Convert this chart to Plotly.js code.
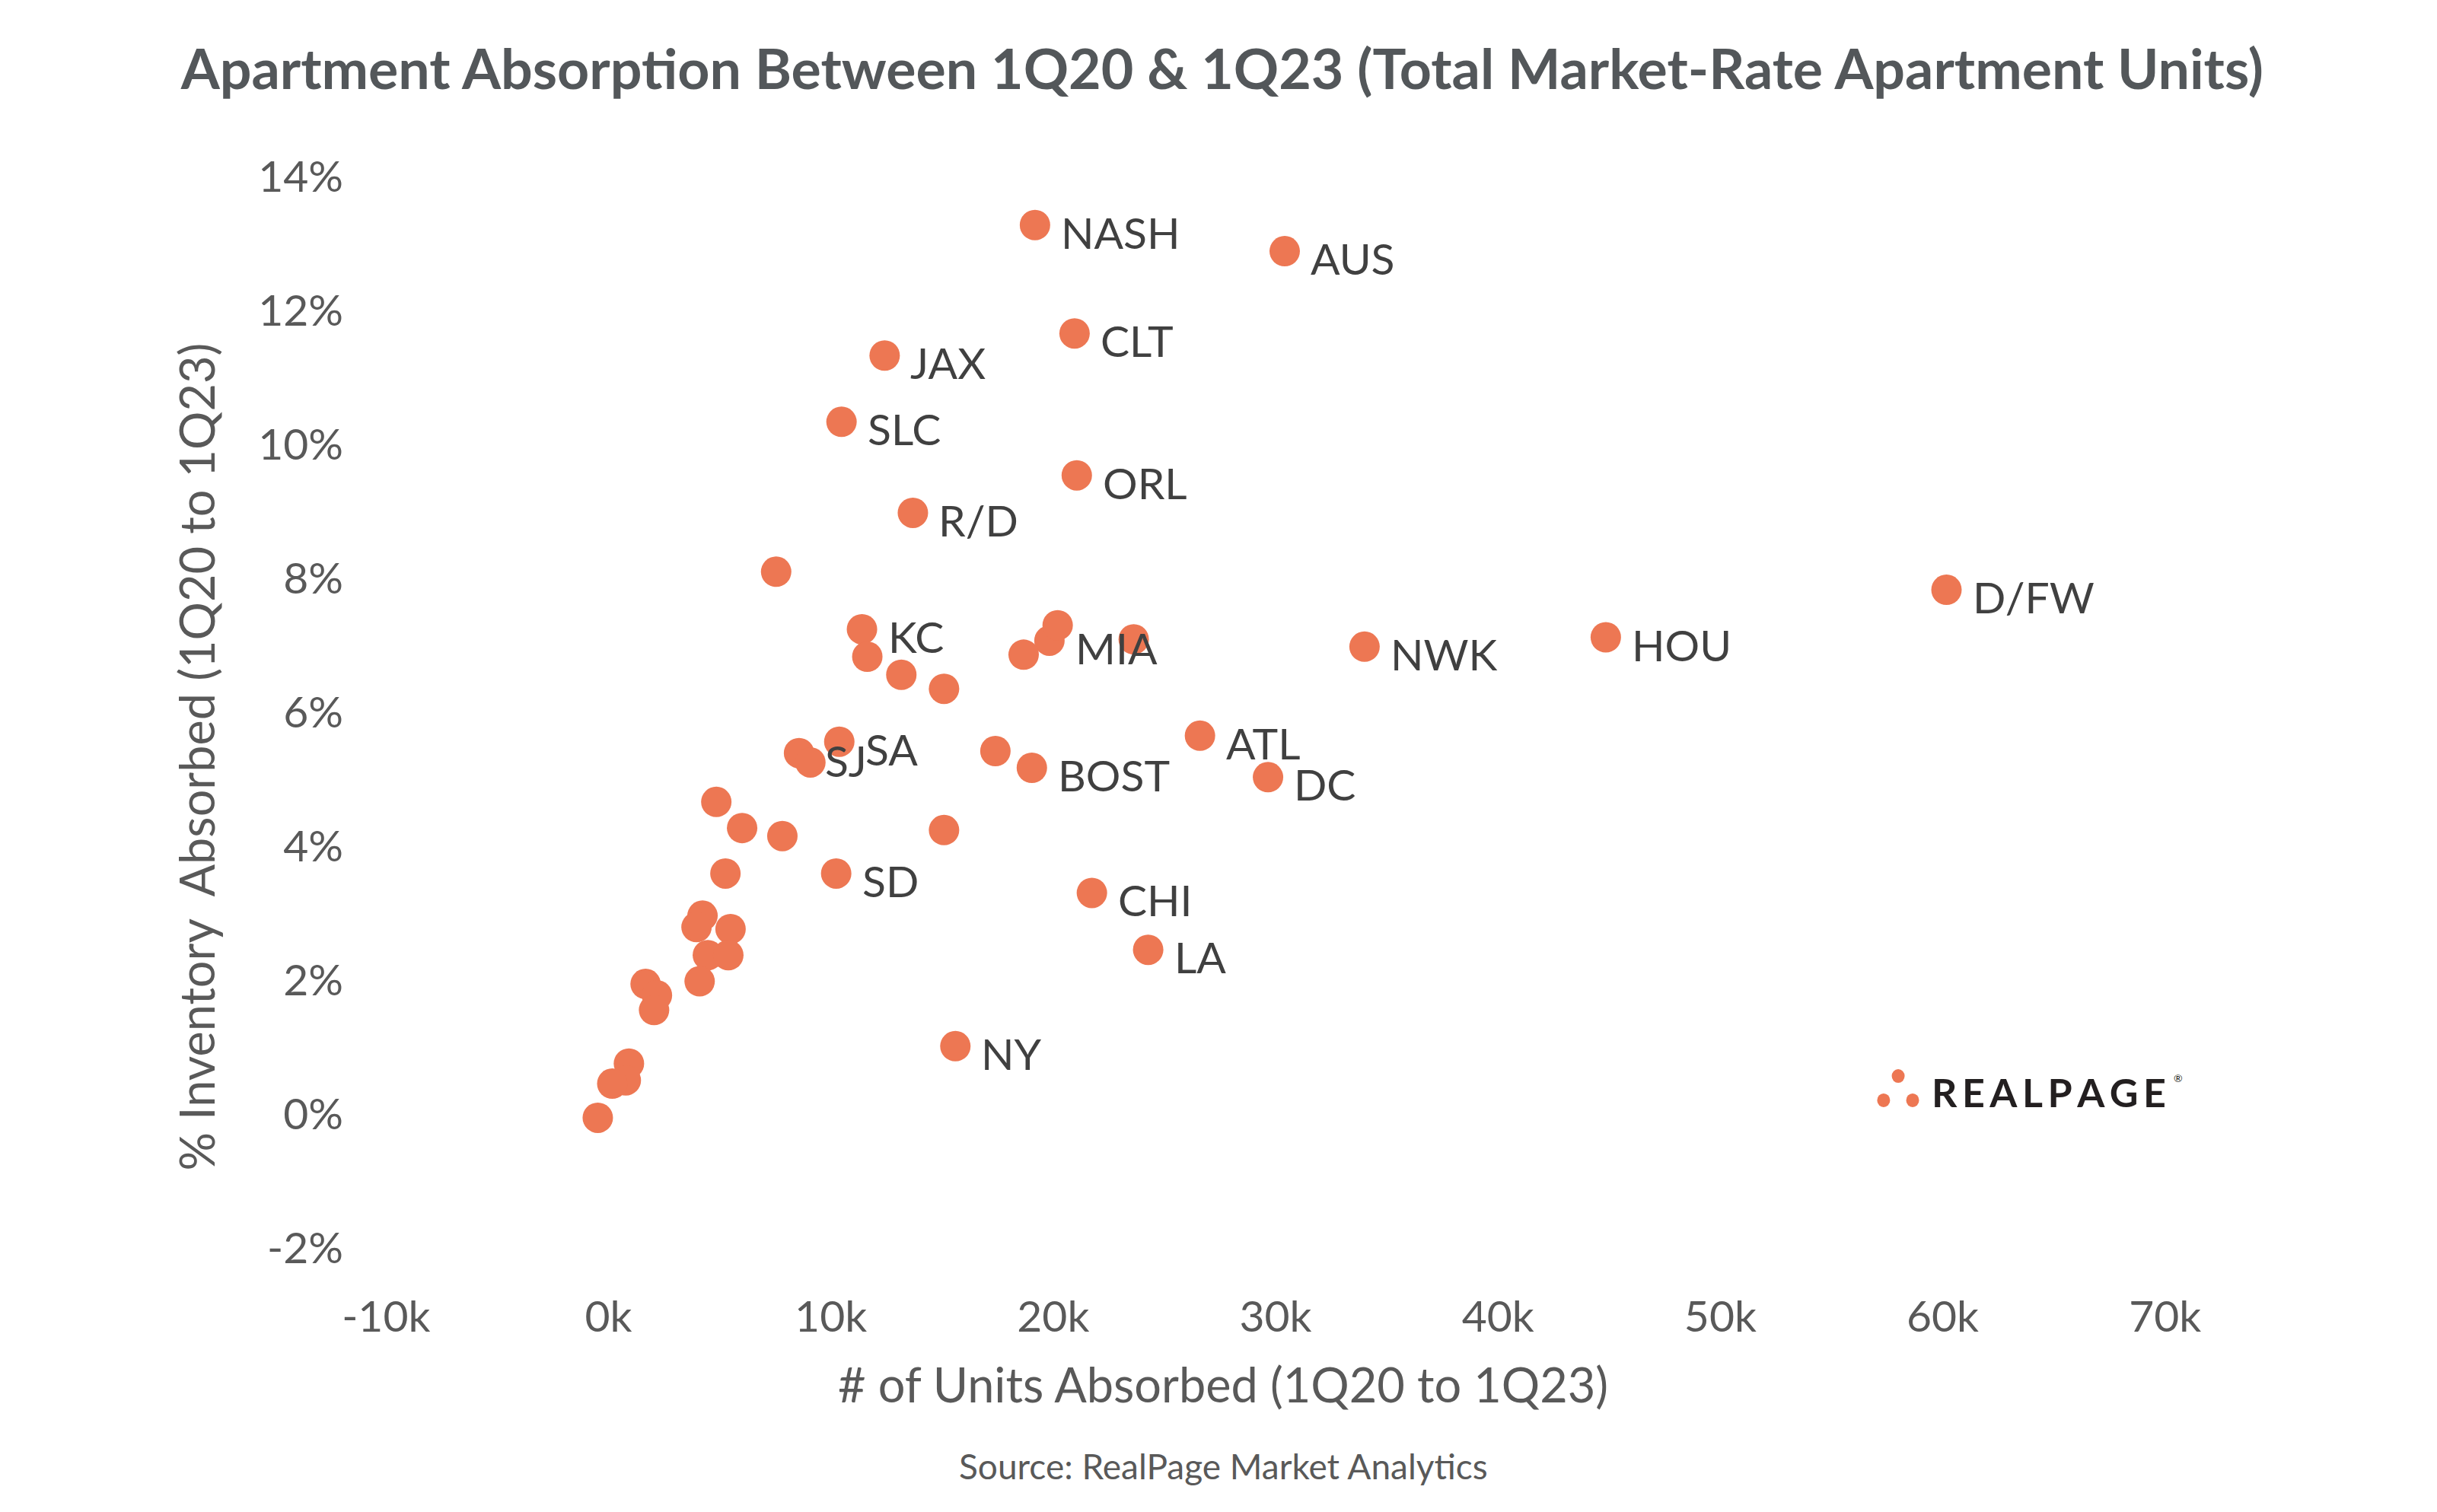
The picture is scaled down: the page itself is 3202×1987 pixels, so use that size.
<!DOCTYPE html>
<html>
<head>
<meta charset="utf-8">
<script src="https://cdn.plot.ly/plotly-3.0.1.min.js"></script>
<style>html,body{margin:0;padding:0;background:#fff;}#chart{width:3202px;height:1987px;}</style>
</head>
<body>
<div id="chart"></div>
<script>
// Market labels ("" = unlabeled market)
const markets = [
  "NASH","AUS","CLT","JAX","SLC","ORL","R/D","KC","MIA","NWK","HOU","D/FW",
  "ATL","DC","BOST","SA","SJ","SD","CHI","LA","NY",
  "","","","","","","","","","","","","","","","","","","","","","","","","","",""
];
// # of units absorbed, 1Q20 to 1Q23
const unitsAbsorbed = [
  19180,30410,20960,12420,10480,21060,13690,11400,19830,34000,44850,60170,
  26600,29660,19040,10380,8570,10240,21740,24270,15600,
  7540,11640,13170,15090,20200,18670,23620,17400,9080,4850,6010,7820,15090,5260,
  4230,3960,5490,4470,5390,4100,1670,2180,2050,920,780,170,-480
];
// % of inventory absorbed, 1Q20 to 1Q23
const pctAbsorbed = [
  13.28,12.89,11.66,11.33,10.34,9.54,8.98,7.24,7.07,6.98,7.12,7.83,
  5.65,5.03,5.17,5.56,5.39,3.59,3.30,2.45,1.01,
  8.10,6.83,6.56,6.35,7.30,6.86,7.09,5.42,5.25,4.66,4.27,4.15,4.24,3.59,
  2.96,2.79,2.76,2.37,2.37,1.98,1.94,1.77,1.55,0.75,0.50,0.45,-0.06
];
// Axis ticks
const xTickVals = [-10000,0,10000,20000,30000,40000,50000,60000,70000];
const xTickText = ["-10k","0k","10k","20k","30k","40k","50k","60k","70k"];
const yTickVals = [-2,0,2,4,6,8,10,12,14];
const yTickText = ["-2%","0%","2%","4%","6%","8%","10%","12%","14%"];

const FONT = "Lato, 'Open Sans', sans-serif";
const ORANGE = "#ED7753";

const trace = {
  type: "scatter",
  mode: "markers",
  x: unitsAbsorbed,
  y: pctAbsorbed,
  text: markets,
  marker: {color: ORANGE, size: 40, line: {width: 0}},
  hoverinfo: "x+y+text",
  showlegend: false
};

const annotations = [];
markets.forEach((m, i) => {
  if (!m) return;
  annotations.push({
    x: unitsAbsorbed[i], y: pctAbsorbed[i], xref: "x", yref: "y",
    text: m, showarrow: false, xanchor: "left", yanchor: "middle",
    xshift: 32, yshift: -9,
    font: {family: FONT, size: 57, color: "#404040"}
  });
});
// Axis titles (placed where the reference has them)
annotations.push({
  xref: "paper", yref: "paper", x: 0.4705, y: -0.1265, xanchor: "center", yanchor: "middle",
  text: "# of Units Absorbed (1Q20 to 1Q23)", showarrow: false,
  font: {family: FONT, size: 63, color: "#595959"}
});
annotations.push({
  xref: "paper", yref: "paper", x: -0.1069, y: 0.4585, xanchor: "center", yanchor: "middle",
  text: "% Inventory  Absorbed (1Q20 to 1Q23)", showarrow: false, textangle: -90,
  font: {family: FONT, size: 63, color: "#595959"}
});
// Source note
annotations.push({
  xref: "paper", yref: "paper", x: 0.4705, y: -0.2035, xanchor: "center", yanchor: "middle",
  text: "Source: RealPage Market Analytics", showarrow: false,
  font: {family: FONT, size: 46, color: "#595959"}
});
// Logo wordmark
annotations.push({
  xref: "paper", yref: "paper", x: 0.9345, y: 0.1456, xanchor: "center", yanchor: "middle",
  text: "R\u2009E\u2009A\u2009L\u2009P\u2009A\u2009G\u2009E", showarrow: false,
  font: {family: "Lato, sans-serif", size: 52, color: "#231F20", weight: 700}
});
annotations.push({
  xref: "paper", yref: "paper", x: 1.004, y: 0.159, xanchor: "left", yanchor: "middle",
  text: "®", showarrow: false,
  font: {family: "Lato, sans-serif", size: 14, color: "#231F20"}
});

const dot = (xp, yp) => ({
  type: "circle", xref: "paper", yref: "paper",
  xsizemode: "pixel", ysizemode: "pixel", xanchor: xp, yanchor: yp,
  x0: -8.5, x1: 8.5, y0: -9, y1: 9,
  fillcolor: ORANGE, line: {width: 0}
});

const layout = {
  width: 3202, height: 1987,
  paper_bgcolor: "#ffffff", plot_bgcolor: "#ffffff",
  margin: {l: 507, r: 357, t: 232, b: 347, pad: 0},
  font: {family: FONT, color: "#595959"},
  title: {
    text: "<b>Apartment Absorption Between 1Q20 & 1Q23 (Total Market-Rate Apartment Units)</b>",
    font: {family: FONT, size: 73.5, color: "#53575A"},
    x: 0.5015, xref: "container", xanchor: "center",
    y: 0.954, yref: "container", yanchor: "middle"
  },
  xaxis: {
    range: [-10010, 70010],
    tickvals: xTickVals, ticktext: xTickText,
    showgrid: false, zeroline: false, showline: false, ticks: "",
    ticklabelstandoff: 52,
    tickfont: {family: FONT, size: 57, color: "#595959"}
  },
  yaxis: {
    range: [-2.005, 14.005],
    tickvals: yTickVals, ticktext: yTickText,
    showgrid: false, zeroline: false, showline: false, ticks: "",
    ticklabelstandoff: 55,
    tickfont: {family: FONT, size: 57, color: "#595959"}
  },
  annotations: annotations,
  shapes: [dot(0.8499, 0.1605), dot(0.8417, 0.1378), dot(0.8580, 0.1378)]
};

Plotly.newPlot("chart", [trace], layout, {displayModeBar: false, staticPlot: true});
</script>
</body>
</html>
